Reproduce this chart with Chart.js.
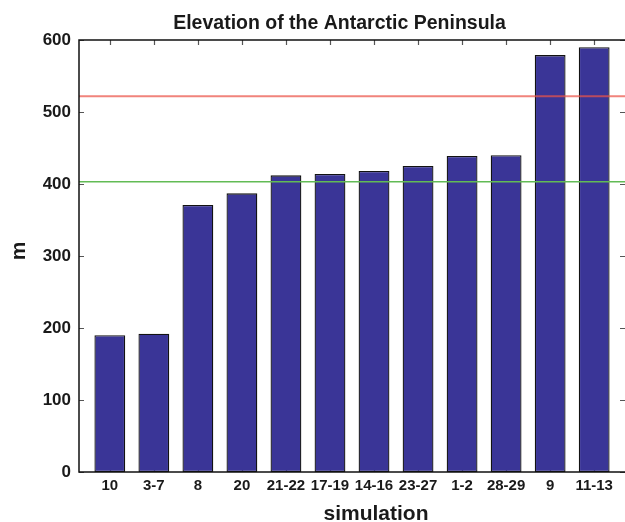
<!DOCTYPE html>
<html>
<head>
<meta charset="utf-8">
<script src="https://cdn.jsdelivr.net/npm/chart.js@4/dist/chart.umd.min.js"></script>
<style>
  html, body { margin: 0; padding: 0; background: #ffffff; }
  #wrap { width: 625px; height: 522px; }
</style>
</head>
<body>
<div id="wrap"><canvas id="c" width="625" height="522"></canvas></div>
<script>
// Simulation groups, ordered by elevation
const categories = ['10', '3-7', '8', '20', '21-22', '17-19', '14-16', '23-27', '1-2', '28-29', '9', '11-13'];
// Peninsula elevation per simulation group (m)
const elevations = [190, 192, 371, 387, 412, 414, 418, 425, 439, 440, 579, 590];
// Reference elevations drawn as horizontal lines (m)
const redLineValue = 522;
const greenLineValue = 403;
// Y-axis tick values
const yTicks = [0, 100, 200, 300, 400, 500, 600];

const titleText = 'Elevation of the Antarctic Peninsula';
const xTitle = 'simulation';
const yTitle = 'm';
const FONT = '"Liberation Sans", Arial, Helvetica, sans-serif';

const framePlugin = {
  id: 'frame',
  beforeDatasetsDraw(chart) {
    const { ctx, chartArea: a, scales: { x, y } } = chart;
    ctx.save();
    ctx.strokeStyle = '#555555';
    ctx.lineWidth = 1.2;
    ctx.beginPath();
    // inward ticks on left and right
    yTicks.forEach(v => {
      const py = Math.round(y.getPixelForValue(v)) + 0.5;
      ctx.moveTo(a.left, py); ctx.lineTo(a.left + 5, py);
      ctx.moveTo(a.right, py); ctx.lineTo(a.right - 5, py);
    });
    // inward ticks on top and bottom
    categories.forEach((_, i) => {
      const px = Math.round(x.getPixelForValue(i + 1)) + 0.5;
      ctx.moveTo(px, a.top); ctx.lineTo(px, a.top + 5);
      ctx.moveTo(px, a.bottom); ctx.lineTo(px, a.bottom - 5);
    });
    ctx.stroke();
    ctx.restore();
  },
  afterDatasetsDraw(chart) {
    const { ctx, chartArea: a, scales: { y } } = chart;
    ctx.save();
    // reference lines over the bars
    const yr = y.getPixelForValue(redLineValue);
    ctx.strokeStyle = 'rgba(236, 84, 74, 0.72)';
    ctx.lineWidth = 2;
    ctx.beginPath(); ctx.moveTo(a.left, yr); ctx.lineTo(a.right, yr); ctx.stroke();
    const yg = y.getPixelForValue(greenLineValue);
    ctx.strokeStyle = '#62bb55';
    ctx.lineWidth = 1.5;
    ctx.beginPath(); ctx.moveTo(a.left, yg); ctx.lineTo(a.right, yg); ctx.stroke();
    // axes box
    ctx.strokeStyle = '#111111';
    ctx.lineWidth = 1.5;
    ctx.beginPath();
    ctx.moveTo(a.right + 0.5, a.top);
    ctx.lineTo(a.left, a.top);
    ctx.lineTo(a.left, a.bottom);
    ctx.lineTo(a.right + 0.5, a.bottom);
    ctx.stroke();
    ctx.restore();
  },
  afterDraw(chart) {
    const { ctx } = chart;
    ctx.save();
    ctx.fillStyle = '#1a1a1a';
    ctx.textBaseline = 'alphabetic';
    ctx.textAlign = 'center';
    ctx.font = 'bold 19.5px ' + FONT;
    ctx.fillText(titleText, 339.5, 29);
    ctx.font = 'bold 21px ' + FONT;
    ctx.fillText(xTitle, 376, 520);
    ctx.translate(25, 251);
    ctx.rotate(-Math.PI / 2);
    ctx.fillText(yTitle, 0, 0);
    ctx.restore();
  }
};

new Chart(document.getElementById('c'), {
  type: 'bar',
  data: {
    datasets: [{
      data: elevations.map((v, i) => ({ x: i + 1, y: v })),
      backgroundColor: '#3a3597',
      borderColor: '#121212',
      borderWidth: 1.3,
      borderSkipped: false,
      barPercentage: 0.7,
      categoryPercentage: 1.0
    }]
  },
  options: {
    responsive: false,
    animation: false,
    events: [],
    layout: { padding: { top: 40, left: 0, right: 0, bottom: 0 } },
    plugins: {
      legend: { display: false },
      title: { display: false },
      tooltip: { enabled: false }
    },
    scales: {
      x: {
        type: 'linear',
        offset: false,
        min: 0.3,
        max: 12.7,
        grid: { display: false, drawTicks: false },
        border: { display: false },
        ticks: {
          autoSkip: false,
          maxRotation: 0,
          padding: 5,
          color: '#1a1a1a',
          font: { family: FONT, size: 15, weight: 'bold' },
          callback: v => categories[v - 1]
        },
        afterBuildTicks: s => { s.ticks = categories.map((_, i) => ({ value: i + 1 })); },
        afterFit: s => { s.height = 50; s.paddingLeft = 0; s.paddingRight = 0; }
      },
      y: {
        min: 0,
        max: 600,
        grid: { display: false, drawTicks: false },
        border: { display: false },
        ticks: {
          stepSize: 100,
          padding: 8,
          color: '#1a1a1a',
          font: { family: FONT, size: 17, weight: 'bold' }
        },
        afterBuildTicks: s => { s.ticks = yTicks.map(v => ({ value: v })); },
        afterFit: s => { s.width = 79; s.paddingTop = 0; s.paddingBottom = 0; }
      }
    }
  },
  plugins: [framePlugin]
});
</script>
</body>
</html>
